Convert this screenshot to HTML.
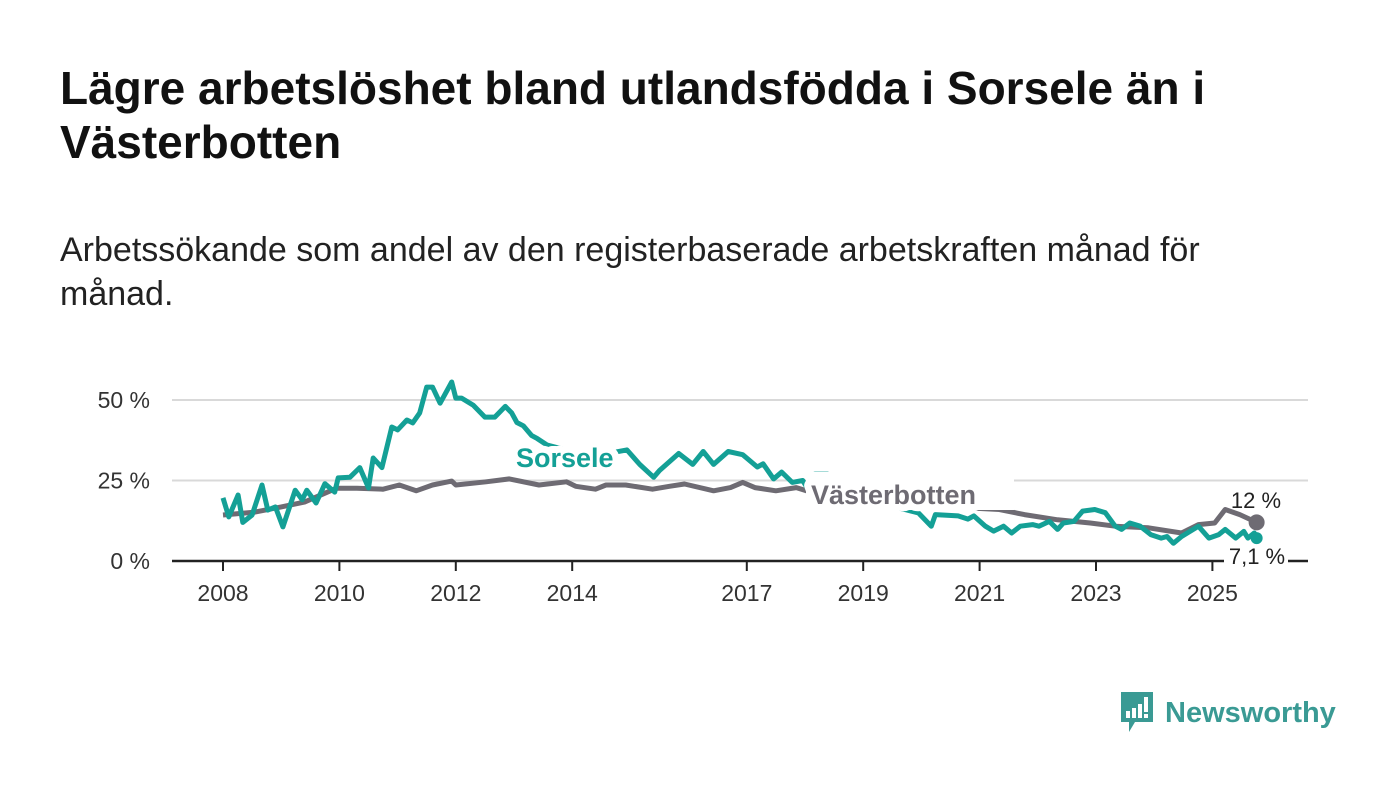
<!DOCTYPE html>
<html><head><meta charset="utf-8">
<style>
body{margin:0;background:#fff;width:1400px;height:794px;overflow:hidden;font-family:"Liberation Sans","DejaVu Sans",sans-serif;}
h1{position:absolute;left:60px;top:61px;margin:0;font-size:46px;line-height:54px;font-weight:bold;color:#111;width:1320px;}
.sub{position:absolute;left:60px;top:228px;margin:0;font-size:34px;line-height:44px;color:#222;width:1320px;}
svg{position:absolute;left:0;top:0;}
.logo{position:absolute;left:1119px;top:692px;display:flex;align-items:center;}
.logo span{color:#3a9a94;font-size:29px;font-weight:bold;margin-left:10px;}
</style></head><body>
<h1>Lägre arbetslöshet bland utlandsfödda i Sorsele än i<br>Västerbotten</h1>
<p class="sub">Arbetssökande som andel av den registerbaserade arbetskraften månad för<br>månad.</p>
<svg id="chart" width="1400" height="794"></svg>
<div class="logo">
<svg width="36" height="42" viewBox="0 0 36 42" style="position:static"><path d="M2 0H34V30H16L10 40V30H2Z" fill="#3a9a94"/><rect x="7" y="19" width="4" height="7" fill="#fff"/><rect x="13" y="16" width="4" height="10" fill="#fff"/><rect x="19" y="12" width="4" height="14" fill="#fff"/><rect x="25" y="5" width="4" height="15" fill="#fff"/><rect x="25" y="22" width="4" height="4" fill="#fff"/></svg>
<span>Newsworthy</span></div>
<script>
const yTicks=[0,25,50];
const yTickLabels=["0 %","25 %","50 %"];
const xTicks=[2008,2010,2012,2014,2017,2019,2021,2023,2025];
const sorseleDates=[2008.0,2008.1,2008.26,2008.34,2008.5,2008.67,2008.77,2008.9,2009.03,2009.24,2009.36,2009.44,2009.6,2009.75,2009.92,2009.98,2010.18,2010.35,2010.5,2010.58,2010.73,2010.9,2011.0,2011.16,2011.26,2011.38,2011.5,2011.6,2011.73,2011.93,2012.0,2012.1,2012.3,2012.5,2012.67,2012.85,2012.96,2013.05,2013.16,2013.3,2013.4,2013.57,2014.0,2014.5,2014.94,2015.16,2015.4,2015.5,2015.83,2016.07,2016.25,2016.43,2016.68,2016.93,2017.18,2017.28,2017.46,2017.6,2017.78,2017.96,2018.07,2018.17,2018.39,2018.46,2019.0,2019.5,2019.95,2020.17,2020.24,2020.63,2020.8,2020.9,2021.1,2021.24,2021.41,2021.55,2021.7,2021.91,2022.02,2022.2,2022.34,2022.44,2022.62,2022.77,2022.98,2023.16,2023.33,2023.44,2023.58,2023.76,2023.94,2024.12,2024.22,2024.33,2024.47,2024.76,2024.94,2025.11,2025.22,2025.4,2025.54,2025.61,2025.72,2025.76];
const sorseleValues=[19.6,13.7,20.5,12,14.3,23.6,15.8,16.8,10.6,22,19,22,18,24,21.4,25.8,26,29,22.7,32,29,41.6,40.7,43.8,42.9,46,54,54,49,55.6,50.6,50.6,48.4,44.7,44.7,48,46,43,42,39,38,36,34,33,34.5,30,26,28.1,33.4,30,34,30,34,33,29.2,30.2,25.5,27.6,24.4,25,21.8,27,27,25.5,21,17,14.9,10.8,14.4,14,13,14,10.8,9.3,10.8,8.7,10.8,11.3,10.8,12.3,9.8,11.8,12.3,15.5,16,15,10.8,9.8,11.8,10.8,8.2,7.1,7.6,5.5,7.6,10.8,7.1,8.2,9.8,7.1,9.2,7.1,8.7,7.1];
const vbDates=[2008.0,2008.55,2009.0,2009.4,2009.95,2010.3,2010.75,2011.03,2011.32,2011.6,2011.93,2012.0,2012.52,2012.92,2013.43,2013.9,2014.06,2014.4,2014.58,2014.92,2015.38,2015.67,2015.93,2016.43,2016.72,2016.93,2017.14,2017.5,2017.85,2018.03,2019.0,2020.0,2020.8,2021.34,2021.77,2022.34,2022.9,2023.33,2023.9,2024.47,2024.76,2025.04,2025.22,2025.47,2025.76];
const vbValues=[14.3,15.2,16.8,18.3,22.6,22.6,22.3,23.6,21.8,23.6,24.8,23.6,24.6,25.5,23.6,24.6,23.2,22.3,23.6,23.6,22.3,23.2,23.9,21.8,22.8,24.4,22.8,21.8,22.8,21.8,20,18,16.5,16,14.4,12.8,11.8,10.8,10.3,8.7,11.3,11.8,16,14.4,12];
const NS="http://www.w3.org/2000/svg";
const svg=document.getElementById('chart');
function x(t){return 223+(t-2008)*58.2;}
function y(v){return 561-v*3.22;}
function el(tag,attrs,parent){const e=document.createElementNS(NS,tag);for(const k in attrs)e.setAttribute(k,attrs[k]);(parent||svg).appendChild(e);return e;}
yTicks.forEach((v,i)=>{
  if(v>0){const g=el('line',{x1:172,x2:1308,y1:y(v),y2:y(v),stroke:'#d9d9d9','stroke-width':2});
  
  }
  const t=el('text',{x:150,y:y(v)+8,'text-anchor':'end','font-size':23,fill:'#333'});t.textContent=yTickLabels[i];
  
  
});
const ax=el('line',{x1:172,x2:1308,y1:y(0),y2:y(0),stroke:'#222','stroke-width':2.5});


xTicks.forEach(t=>{
  el('line',{x1:x(t),x2:x(t),y1:y(0),y2:y(0)+10,stroke:'#222','stroke-width':2});
  const tx=el('text',{x:x(t),y:601,'text-anchor':'middle','font-size':23,fill:'#333'});tx.textContent=t;
  
  
});
function line(ds,vs,col,name){
  const d=ds.map((t,i)=>(i?'L':'M')+x(t).toFixed(1)+' '+y(vs[i]).toFixed(1)).join(' ');
  const p=el('path',{d:d,fill:'none',stroke:col,'stroke-width':5,'stroke-linejoin':'round'});
  
  
}
line(vbDates,vbValues,'#6e6b73','vasterbotten-line');
line(sorseleDates,sorseleValues,'#14a096','sorsele-line');
const dot=el('circle',{cx:x(vbDates[vbDates.length-1]),cy:y(vbValues[vbValues.length-1]),r:8,fill:'#6e6b73'});


const dot2=el('circle',{cx:x(sorseleDates[sorseleDates.length-1]),cy:y(sorseleValues[sorseleValues.length-1]),r:6,fill:'#14a096'});


el('rect',{x:806,y:472,width:208,height:38,fill:'#fff'});
const l1=el('text',{x:516,y:467,'font-size':27,'font-weight':'bold',fill:'#14a096',stroke:'#fff','stroke-width':14,'paint-order':'stroke','stroke-linejoin':'round'});l1.textContent='Sorsele';


const l2=el('text',{x:811,y:504,'font-size':27,'font-weight':'bold',fill:'#6e6b73',stroke:'#fff','stroke-width':14,'paint-order':'stroke','stroke-linejoin':'round'});l2.textContent='Västerbotten';


const e1=el('text',{x:1256,y:508,'text-anchor':'middle','font-size':22,fill:'#222'});e1.textContent='12 %';


el('rect',{x:1224,y:549,width:64,height:22,fill:'#fff'});
const e2=el('text',{x:1257,y:564,'text-anchor':'middle','font-size':22,fill:'#222'});e2.textContent='7,1 %';


</script>
</body></html>
